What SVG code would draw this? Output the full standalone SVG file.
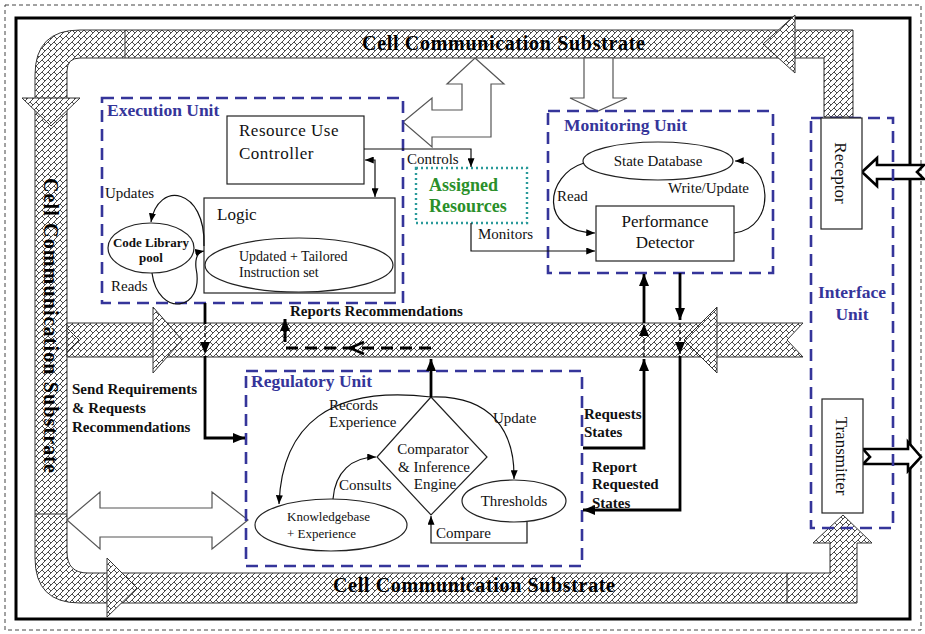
<svg xmlns="http://www.w3.org/2000/svg" width="925" height="634" viewBox="0 0 925 634">
<defs>
<pattern id="h" width="6" height="6" patternUnits="userSpaceOnUse">
<rect width="6" height="6" fill="#fff"/>
<path d="M-1 7L7 -1M-1 1L1 -1M5 7L7 5M0 0L3 3" stroke="#2a2a2a" stroke-width="0.85"/>
</pattern>
<marker id="ar" viewBox="0 0 10 8" refX="10" refY="4" markerWidth="9" markerHeight="7" orient="auto-start-reverse" markerUnits="userSpaceOnUse"><path d="M0 0L10 4L0 8z" fill="#000"/></marker>
<marker id="ak" viewBox="0 0 12 10" refX="12" refY="5" markerWidth="12" markerHeight="10" orient="auto-start-reverse" markerUnits="userSpaceOnUse"><path d="M0 0L12 5L0 10z" fill="#000"/></marker>
<style>
.band{fill:url(#h);stroke:#333;stroke-width:1}
.hollow{fill:#fff;stroke:#555;stroke-width:1.2}
.hk{fill:#fff;stroke:#000;stroke-width:2.6}
.unit{fill:none;stroke:#35359a;stroke-width:2.6;stroke-dasharray:12 7}
.box{fill:#fff;stroke:#222;stroke-width:1.2}
.t{font-family:"Liberation Serif",serif;font-size:15px;fill:#111}
.ul{font-family:"Liberation Serif",serif;font-weight:bold;font-size:17.5px;fill:#35359a}
.b{font-weight:bold}
.ln{fill:none;stroke:#111;stroke-width:1.2}
.tk{fill:none;stroke:#000;stroke-width:2.8}
.dl{fill:none;stroke:#000;stroke-width:1.2;stroke-dasharray:4 3}
.sub{font-family:"Liberation Serif",serif;font-weight:bold;font-size:20px;fill:#000}
</style>
</defs>
<rect width="925" height="634" fill="#fff"/>
<rect x="5" y="5" width="916" height="625" fill="none" stroke="#444" stroke-width="1" stroke-dasharray="4 3"/>
<rect x="16" y="18" width="894" height="601" fill="none" stroke="#000" stroke-width="3"/>

<g id="substrate">
<path class="band" d="M824 117L824 58L80 58Q67 58 67 71L67 552Q67 573 88 573L830 573L830 543L813 543L843 515L872 543L857 543L857 603L80 603Q35 603 35 558L35 75Q35 30 80 30L853 30L853 117Z"/>
<path class="band" d="M67 323L803 323L787 340L803 357L67 357Z"/>
<path class="band" d="M795 15L763 44L795 73Z"/>
<path class="band" d="M22 98L80 98L51 126Z"/>
<path class="band" d="M107 558L137 588L107 617Z"/>
<path class="band" d="M153 307L182 340L153 373Z"/>
<path class="band" d="M717 307L684 340L717 373Z"/>
<path d="M125 30V58M35 514H67M787 573V603M67 328L79 340L67 352" fill="none" stroke="#333"/>
<text class="sub" x="362" y="50" textLength="283">Cell Communication Substrate</text>
<text class="sub" x="333" y="592" textLength="282">Cell Communication Substrate</text>
<text class="sub" transform="translate(44,178) rotate(90)" x="0" y="0" textLength="295">Cell Communication Substrate</text>
</g>

<g id="hollow-arrows">
<path class="hollow" d="M475 58L504 84L491 84L491 137L432 137L432 147L403 122L432 98L432 110L462 110L462 84L447 84Z"/>
<path class="hollow" d="M584 58L584 98L570 98L598 111L627 98L613 98L613 58Z"/>
<path class="hollow" d="M67 520L100 492L100 508L212 508L212 492L248 520L212 549L212 537L100 537L100 549Z"/>
<path class="hk" d="M862 172L877 158L877 165L924 165L917 172L924 179L877 179L877 186Z"/>
<path class="hk" d="M863 449L908 449L908 442L921 457L908 471L908 464L863 464L870 457Z"/>
</g>

<g id="execution-unit">
<rect class="unit" x="102" y="98" width="301" height="205"/>
<text class="ul" x="107" y="116">Execution Unit</text>
</g>
<g id="monitoring-unit">
<rect class="unit" x="548" y="111" width="225" height="162"/>
<text class="ul" x="564" y="131">Monitoring Unit</text>
</g>
<g id="regulatory-unit">
<rect class="unit" x="246" y="371" width="336" height="195"/>
<text class="ul" x="251" y="387">Regulatory Unit</text>
</g>
<g id="interface-unit">
<rect class="unit" x="811" y="118" width="82" height="410"/>
<text class="ul" x="852" y="298" text-anchor="middle">Interface</text>
<text class="ul" x="852" y="320" text-anchor="middle">Unit</text>
</g>

<g id="resource-use-controller">
<rect class="box" x="227" y="116" width="137" height="68"/>
<text class="t" x="239" y="136" style="font-size:17px;letter-spacing:0.5px">Resource Use</text>
<text class="t" x="239" y="159" style="font-size:17px;letter-spacing:0.5px">Controller</text>
</g>
<g id="logic">
<rect class="box" x="204" y="198" width="191" height="95"/>
<text class="t" x="217" y="220" style="font-size:17px">Logic</text>
</g>
<g id="instruction-set">
<ellipse class="box" cx="299" cy="265" rx="94" ry="27"/>
<text class="t" x="239" y="261" style="font-size:14px">Updated + Tailored</text>
<text class="t" x="239" y="277" style="font-size:14px">Instruction set</text>
</g>
<g id="code-library">
<ellipse class="box" cx="151" cy="248" rx="43" ry="25"/>
<text class="t b" x="151" y="247" text-anchor="middle" style="font-size:13px">Code Library</text>
<text class="t b" x="151" y="262" text-anchor="middle" style="font-size:13px">pool</text>
</g>
<g id="assigned-resources">
<rect x="416" y="168" width="111" height="55" fill="#fff" stroke="#2a9a9a" stroke-width="2.4" stroke-dasharray="2 3"/>
<text class="t b" x="429" y="191" style="font-size:18px;fill:#2a8f2a">Assigned</text>
<text class="t b" x="429" y="212" style="font-size:18px;fill:#2a8f2a">Resources</text>
</g>
<g id="state-database">
<ellipse class="box" cx="658" cy="161" rx="75" ry="19"/>
<text class="t" x="658" y="166" text-anchor="middle">State Database</text>
</g>
<g id="performance-detector">
<rect class="box" x="596" y="206" width="138" height="55"/>
<text class="t" x="665" y="227" text-anchor="middle" style="font-size:17px">Performance</text>
<text class="t" x="665" y="248" text-anchor="middle" style="font-size:17px">Detector</text>
</g>
<g id="comparator">
<path class="box" d="M431 397L487 457L431 515L377 457Z"/>
<text class="t" x="433" y="454" text-anchor="middle">Comparator</text>
<text class="t" x="434" y="472" text-anchor="middle">&amp; Inference</text>
<text class="t" x="435" y="489" text-anchor="middle">Engine</text>
</g>
<g id="knowledgebase">
<ellipse class="box" cx="331" cy="525" rx="76" ry="26"/>
<text class="t" x="287" y="521" style="font-size:13px">Knowledgebase</text>
<text class="t" x="287" y="538" style="font-size:13px">+ Experience</text>
</g>
<g id="thresholds">
<ellipse class="box" cx="514" cy="501" rx="52" ry="21"/>
<text class="t" x="514" y="506" text-anchor="middle">Thresholds</text>
</g>
<g id="receptor">
<rect class="box" x="821" y="118" width="41" height="111"/>
<text class="t" transform="translate(835,173) rotate(90)" x="0" y="0" text-anchor="middle" style="font-size:17px">Receptor</text>
</g>
<g id="transmitter">
<rect class="box" x="822" y="399" width="41" height="114"/>
<text class="t" transform="translate(836,456) rotate(90)" x="0" y="0" text-anchor="middle" style="font-size:17px">Transmitter</text>
</g>

<g id="connectors">
<path class="ln" d="M204 246C206 188 158 180 151 222" marker-end="url(#ar)"/>
<path class="ln" d="M152 273C158 318 205 312 196 268C195 258 198 252 204 251" marker-end="url(#ar)"/>
<path class="ln" d="M365 160L375 160L375 197" marker-start="url(#ar)" marker-end="url(#ar)"/>
<path class="ln" d="M364 149L471 149L471 167" marker-end="url(#ar)"/>
<path class="ln" d="M471 223L471 251L595 251" marker-end="url(#ar)"/>
<path class="ln" d="M584 163C545 175 538 232 595 233" marker-end="url(#ar)"/>
<path class="ln" d="M734 233C778 228 772 160 735 161" marker-end="url(#ar)"/>
<path class="ln" d="M431 397C330 385 282 425 279 504" marker-end="url(#ar)"/>
<path class="ln" d="M431 397C492 395 515 432 514 479" marker-end="url(#ar)"/>
<path class="ln" d="M333 499C335 472 352 457 376 457" marker-end="url(#ar)"/>
<path class="ln" d="M527 522L527 543L431 543L431 516" marker-end="url(#ar)"/>
<path class="tk" d="M431 397L431 359" marker-end="url(#ak)"/>
<path d="M431 348L285 348L285 319" fill="none" stroke="#000" stroke-width="3" stroke-dasharray="12 7" marker-end="url(#ak)"/>
<path d="M364 342L350 348L364 354" fill="none" stroke="#000" stroke-width="2.5"/>
<path class="tk" d="M205 303L205 324"/>
<path class="dl" d="M205 326L205 354" marker-end="url(#ak)"/>
<path class="tk" d="M205 356L205 438L245 438" marker-end="url(#ak)"/>
<path class="tk" d="M583 448L644 448L644 359" marker-end="url(#ak)"/>
<path class="dl" d="M644 357L644 324" marker-end="url(#ak)"/>
<path class="tk" d="M644 323L644 274" marker-end="url(#ak)"/>
<path class="tk" d="M680 273L680 320" marker-end="url(#ak)"/>
<path class="dl" d="M680 323L680 354" marker-end="url(#ak)"/>
<path class="tk" d="M680 356L680 510L583 510" marker-end="url(#ak)"/>
</g>

<g id="labels">
<text class="t" x="105" y="198">Updates</text>
<text class="t" x="111" y="291">Reads</text>
<text class="t" x="407" y="164">Controls</text>
<text class="t" x="478" y="239">Monitors</text>
<text class="t" x="557" y="201">Read</text>
<text class="t" x="668" y="193">Write/Update</text>
<text class="t b" x="290" y="316">Reports Recommendations</text>
<text class="t b" x="72" y="394">Send Requirements</text>
<text class="t b" x="72" y="413">&amp; Requests</text>
<text class="t b" x="72" y="432">Recommendations</text>
<text class="t" x="329" y="410">Records</text>
<text class="t" x="329" y="427">Experience</text>
<text class="t" x="493" y="423">Update</text>
<text class="t" x="339" y="490">Consults</text>
<text class="t" x="436" y="538">Compare</text>
<text class="t b" x="584" y="419">Requests</text>
<text class="t b" x="584" y="437">States</text>
<text class="t b" x="592" y="472">Report</text>
<text class="t b" x="592" y="489">Requested</text>
<text class="t b" x="592" y="508">States</text>
</g>
</svg>
